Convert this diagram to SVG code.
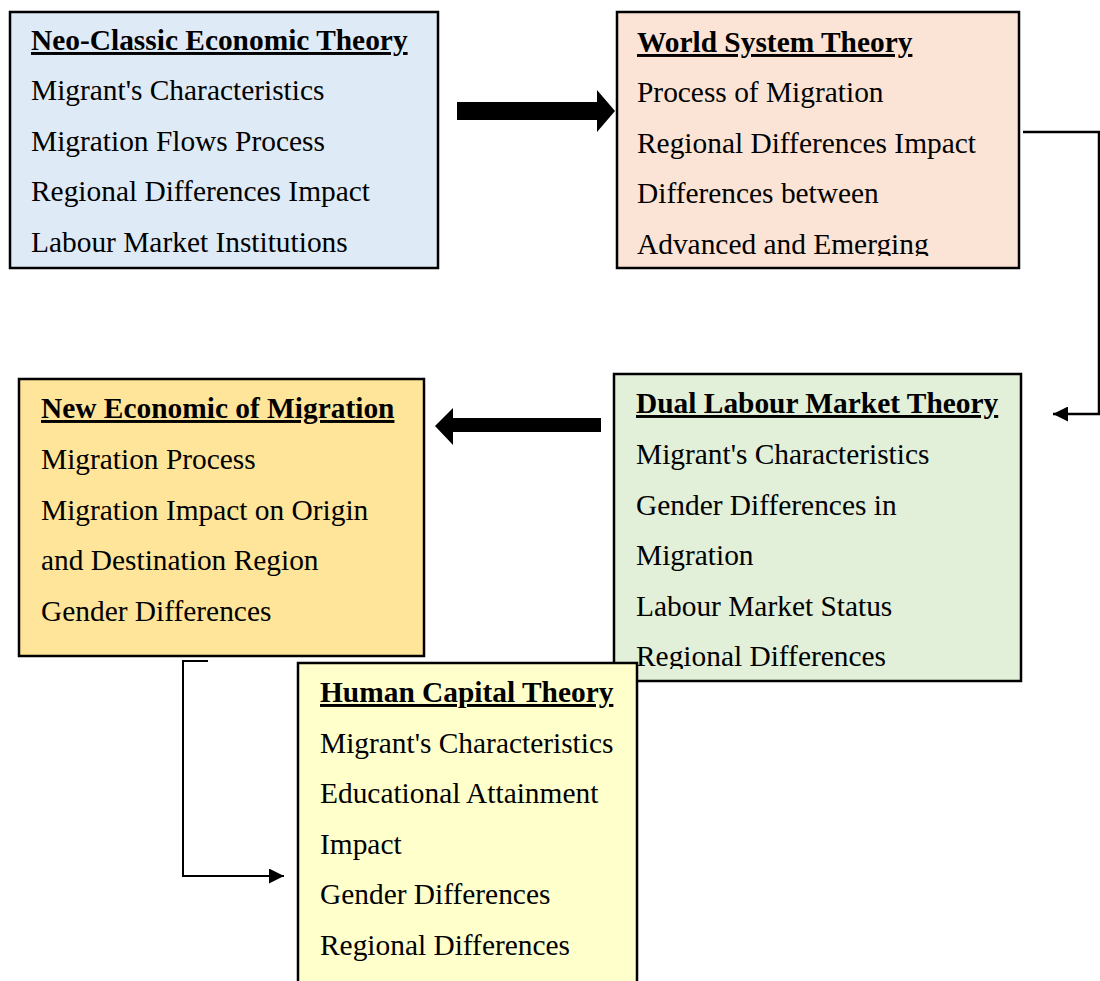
<svg xmlns="http://www.w3.org/2000/svg" width="1100" height="981" viewBox="0 0 1100 981">
<style>
.box{stroke:#000;stroke-width:2.5}
.t{font-family:"Liberation Serif","Times New Roman",serif;font-size:29.4px;fill:#000}
.h{font-weight:bold;text-decoration:underline}
.conn{fill:none;stroke:#000}
</style>
<defs>
<marker id="ah" viewBox="0 0 10 10" refX="10" refY="5" markerWidth="16" markerHeight="15" markerUnits="userSpaceOnUse" orient="auto">
<path d="M0,0 L10,5 L0,10 z" fill="#000"/>
</marker>
<clipPath id="cw"><rect x="617" y="12" width="402" height="244"/></clipPath>
<clipPath id="cd"><rect x="614" y="374" width="407" height="295"/></clipPath>
</defs>
<rect width="1100" height="981" fill="#fff"/>
<g id="connectors">
<polygon points="457,102 597,102 597,90 615,111 597,132 597,120 457,120" fill="#000"/>
<polygon points="601,418 453,418 453,408 435,426 453,445 453,432 601,432" fill="#000"/>
<polyline class="conn" points="1023,132 1099,132 1099,414 1053,414" stroke-width="2.5" marker-end="url(#ah)"/>
<polyline class="conn" points="208,661 183,661 183,876 284,876" stroke-width="2" marker-end="url(#ah)"/>
</g>
<g id="neo-classic">
<rect class="box" x="10" y="12" width="428" height="256" fill="#DEEAF6"/>
<text class="t h" x="31" y="50">Neo-Classic Economic Theory</text>
<text class="t" x="31" y="100">Migrant's Characteristics</text>
<text class="t" x="31" y="151">Migration Flows Process</text>
<text class="t" x="31" y="201">Regional Differences Impact</text>
<text class="t" x="31" y="252">Labour Market Institutions</text>
</g>
<g id="world-system">
<rect class="box" x="617" y="12" width="402" height="256" fill="#FBE4D5"/>
<g clip-path="url(#cw)">
<text class="t h" x="637" y="52">World System Theory</text>
<text class="t" x="637" y="102">Process of Migration</text>
<text class="t" x="637" y="153">Regional Differences Impact</text>
<text class="t" x="637" y="203">Differences between</text>
<text class="t" x="637" y="254">Advanced and Emerging</text>
</g>
</g>
<g id="dual-labour">
<rect class="box" x="614" y="374" width="407" height="307" fill="#E2EFD9"/>
<g clip-path="url(#cd)">
<text class="t h" x="636" y="413">Dual Labour Market Theory</text>
<text class="t" x="636" y="464">Migrant's Characteristics</text>
<text class="t" x="636" y="515">Gender Differences in</text>
<text class="t" x="636" y="565">Migration</text>
<text class="t" x="636" y="616">Labour Market Status</text>
<text class="t" x="636" y="666">Regional Differences</text>
</g>
</g>
<g id="new-economic">
<rect class="box" x="19" y="379" width="405" height="277" fill="#FFE599"/>
<text class="t h" x="41" y="418">New Economic of Migration</text>
<text class="t" x="41" y="469">Migration Process</text>
<text class="t" x="41" y="520">Migration Impact on Origin</text>
<text class="t" x="41" y="570">and Destination Region</text>
<text class="t" x="41" y="621">Gender Differences</text>
</g>
<g id="human-capital">
<rect class="box" x="298" y="663" width="339" height="330" fill="#FFFFCC"/>
<text class="t h" x="320" y="702">Human Capital Theory</text>
<text class="t" x="320" y="753">Migrant's Characteristics</text>
<text class="t" x="320" y="803">Educational Attainment</text>
<text class="t" x="320" y="854">Impact</text>
<text class="t" x="320" y="904">Gender Differences</text>
<text class="t" x="320" y="955">Regional Differences</text>
</g>
</svg>
